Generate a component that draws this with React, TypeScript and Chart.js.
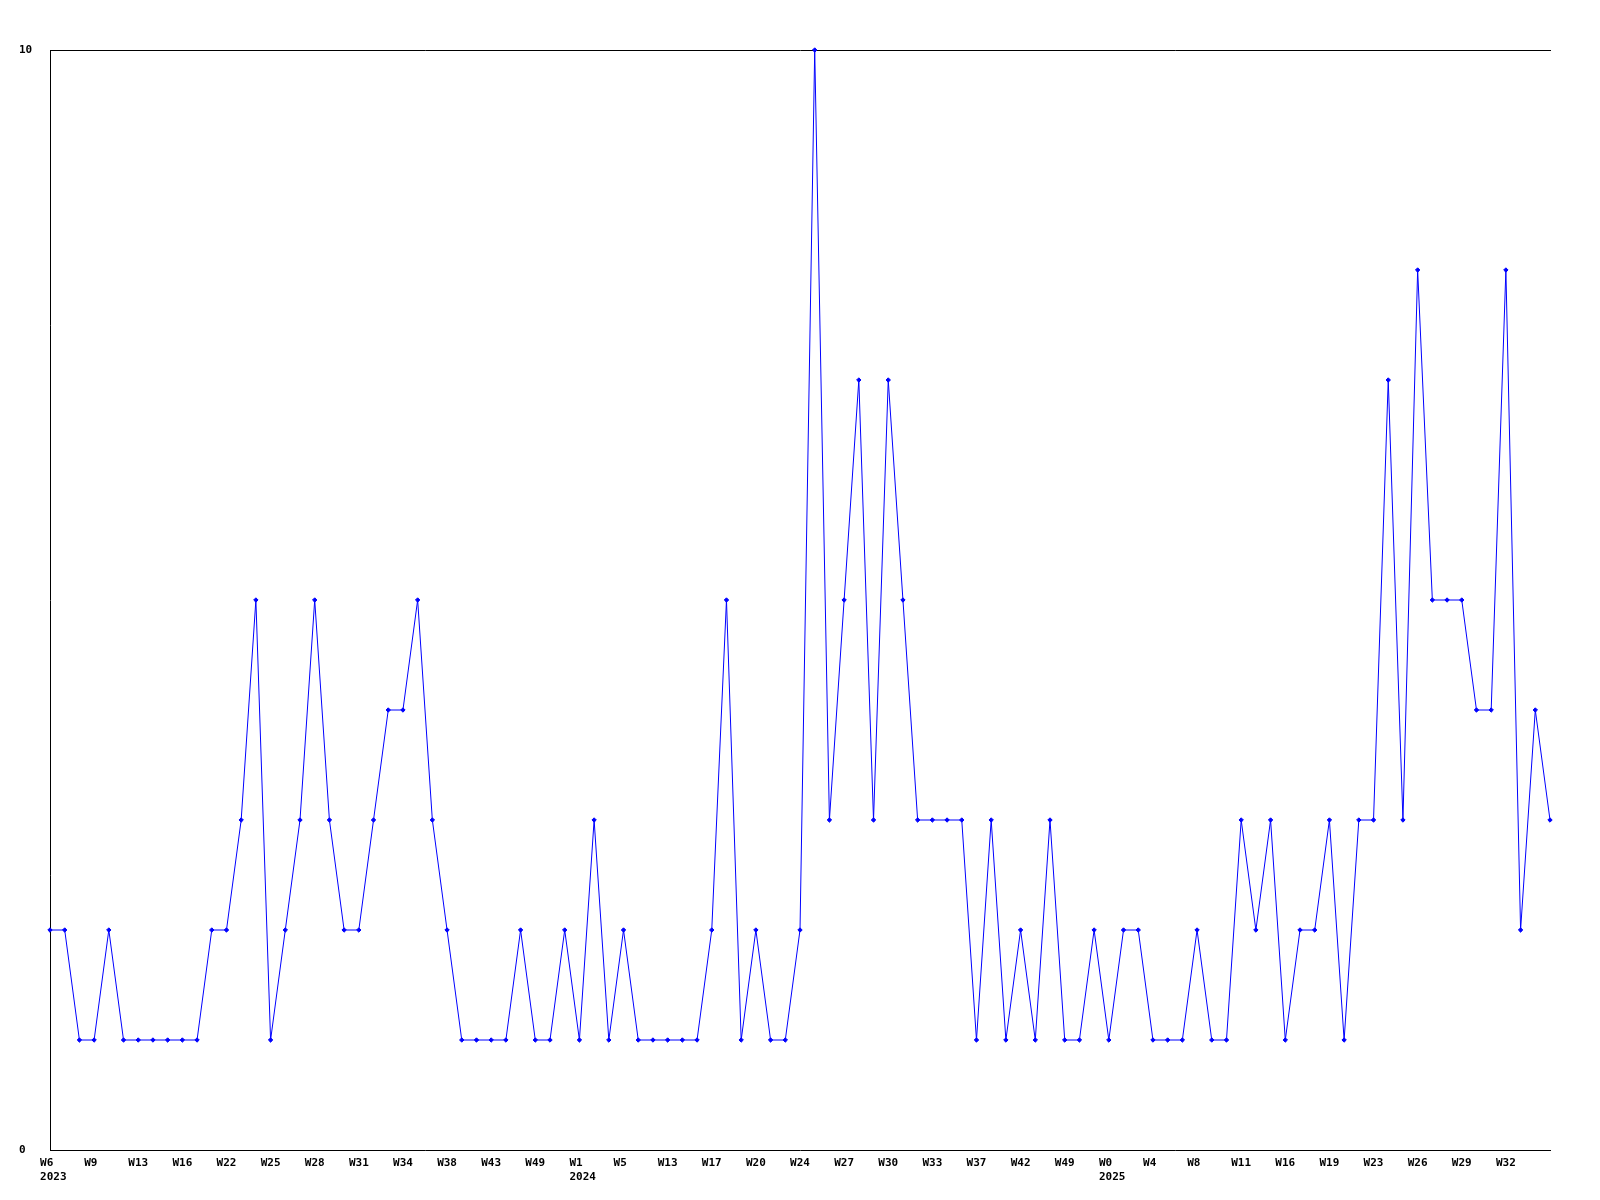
import React, { useEffect, useRef } from "react";
import { Chart, registerables } from "chart.js";

Chart.register(...registerables);

// Weekly counts, one value per category point
const seriesValues: number[] = [
  2, 2, 1, 1, 2, 1, 1, 1, 1, 1,
  1, 2, 2, 3, 5, 1, 2, 3, 5, 3,
  2, 2, 3, 4, 4, 5, 3, 2, 1, 1,
  1, 1, 2, 1, 1, 2, 1, 3, 1, 2,
  1, 1, 1, 1, 1, 2, 5, 1, 2, 1,
  1, 2, 10, 3, 5, 7, 3, 7, 5, 3,
  3, 3, 3, 1, 3, 1, 2, 1, 3, 1,
  1, 2, 1, 2, 2, 1, 1, 1, 2, 1,
  1, 3, 2, 3, 1, 2, 2, 3, 1, 3,
  3, 7, 3, 8, 5, 5, 5, 4, 4, 8,
  2, 4, 3,
];

// Tick labels shown every third point
const weekLabels: string[] = [
  "W6", "W9", "W13", "W16", "W22", "W25", "W28", "W31", "W34", "W38",
  "W43", "W49", "W1", "W5", "W13", "W17", "W20", "W24", "W27", "W30",
  "W33", "W37", "W42", "W49", "W0", "W4", "W8", "W11", "W16", "W19",
  "W23", "W26", "W29", "W32",
];
const labelStep = 3;

// Year shown under the first tick of each year
const yearTickIndex: number[] = [0, 36, 72];
const yearNames: string[] = ["2023", "2024", "2025"];

const yTicks: number[] = [0, 10];

const categories: string[] = seriesValues.map((_, i) =>
  i % labelStep === 0 ? weekLabels[i / labelStep] ?? "" : ""
);

const FONT = { family: "'DejaVu Sans Mono', monospace", size: 11, weight: "bold" as const, lineHeight: 1.3 };

export default function App() {
  const ref = useRef<HTMLCanvasElement | null>(null);

  useEffect(() => {
    if (!ref.current) return;
    const chart = new Chart(ref.current, {
      type: "line",
      data: {
        labels: categories,
        datasets: [
          {
            data: seriesValues,
            borderColor: "#0000ff",
            backgroundColor: "#0000ff",
            borderWidth: 1,
            tension: 0,
            pointStyle: "rectRot",
            pointRadius: 2.2,
            pointBorderWidth: 1,
            pointBackgroundColor: "#0000ff",
            pointBorderColor: "#0000ff",
            clip: false as any,
            fill: false,
          },
        ],
      },
      options: {
        animation: false,
        responsive: false,
        maintainAspectRatio: false,
        layout: { padding: { left: 19, top: 50, right: 50, bottom: 0 } },
        plugins: { legend: { display: false }, tooltip: { enabled: false } },
        scales: {
          x: {
            type: "category",
            offset: false,
            grid: { display: false, drawTicks: false },
            border: { display: true, color: "#000", width: 1 },
            afterFit: (s: any) => {
              s.height = 50;
            },
            ticks: {
              autoSkip: false,
              maxRotation: 0,
              minRotation: 0,
              padding: 6,
              color: "#000",
              font: FONT,
              callback: function (this: any, value: any, index: number) {
                const lab = this.getLabelForValue(value) as string;
                if (!lab) return "";
                const first = lab.length < 3 ? lab + " " : lab;
                const yi = yearTickIndex.indexOf(index);
                if (yi >= 0) return [first, " " + yearNames[yi]];
                return first;
              },
            },
          },
          xTop: {
            type: "linear",
            position: "top",
            min: 0,
            max: 1,
            grid: { display: false, drawTicks: false },
            border: { display: true, color: "#000", width: 1 },
            ticks: { display: false },
            afterFit: (s: any) => {
              s.height = 0;
            },
          },
          y: {
            type: "linear",
            min: yTicks[0],
            max: yTicks[yTicks.length - 1],
            grid: { display: false, drawTicks: false },
            border: { display: true, color: "#000", width: 1 },
            afterFit: (s: any) => {
              s.width = 31;
            },
            afterBuildTicks: (s: any) => {
              s.ticks = yTicks.map((v) => ({ value: v }));
            },
            ticks: {
              crossAlign: "far",
              padding: 0,
              color: "#000",
              font: FONT,
              callback: (v: any) => String(v),
            },
          },
        },
      },
    });
    return () => chart.destroy();
  }, []);

  return (
    <div style={{ position: "absolute", left: 0, top: 0, width: 1600, height: 1200, background: "#fff" }}>
      <canvas ref={ref} width={1600} height={1200} style={{ display: "block" }} />
    </div>
  );
}
